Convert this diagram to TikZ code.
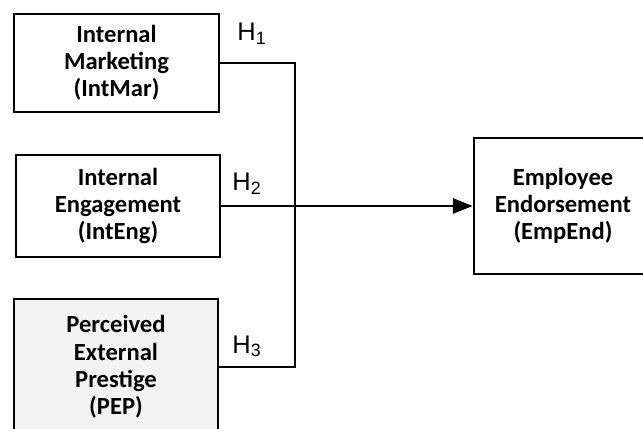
\documentclass[tikz,border=0pt]{standalone}
\usepackage{fontspec}
\setmainfont{Carlito}
\newfontfamily\hfont{Liberation Sans}
\usetikzlibrary{arrows.meta}

\begin{document}
\begin{tikzpicture}[x=0.02cm,y=-0.02cm]
\tikzset{factor/.style={draw,line width=1.4pt,align=center,inner sep=2pt,font=\fontsize{14}{15.5}\selectfont\bfseries},
         link/.style={line width=1.7pt},
         hyp/.style={anchor=base west,inner sep=0pt,font=\hfont\fontsize{14.5}{17}\selectfont}};
\useasboundingbox (0,0) rectangle (643,429);
\clip (0,0) rectangle (643,429);
    \node[factor,minimum width=4.1cm,minimum height=1.96cm] (intmar) at (116.5,63) {Internal\\Marketing\\(IntMar)};
    \node[factor,minimum width=4.08cm,minimum height=2.04cm] (inteng) at (118,206) {Internal\\Engagement\\(IntEng)};
    \node[factor,fill=black!5,minimum width=4.08cm,minimum height=2.72cm] (pep) at (116,367) {Perceived\\External\\Prestige\\(PEP)};
    \node[factor,minimum width=3.56cm,minimum height=2.72cm] (empend) at (563,206) {Employee\\Endorsement\\(EmpEnd)};
    \coordinate (join) at (295,206);
    \draw[link] (intmar.east) -| (join);
    \draw[link] (pep.east) -| (join);
    \draw[link] (inteng.east) -- (join);
    \draw[link,-{Triangle[length=0.4cm,width=0.3cm]}] (join) -- (empend.west);
    \node[hyp] (h1) at (237,41) {H\textsubscript{1}};
    \node[hyp] (h2) at (232,191) {H\textsubscript{2}};
    \node[hyp] (h3) at (232,353) {H\textsubscript{3}};
\end{tikzpicture}
\end{document}
